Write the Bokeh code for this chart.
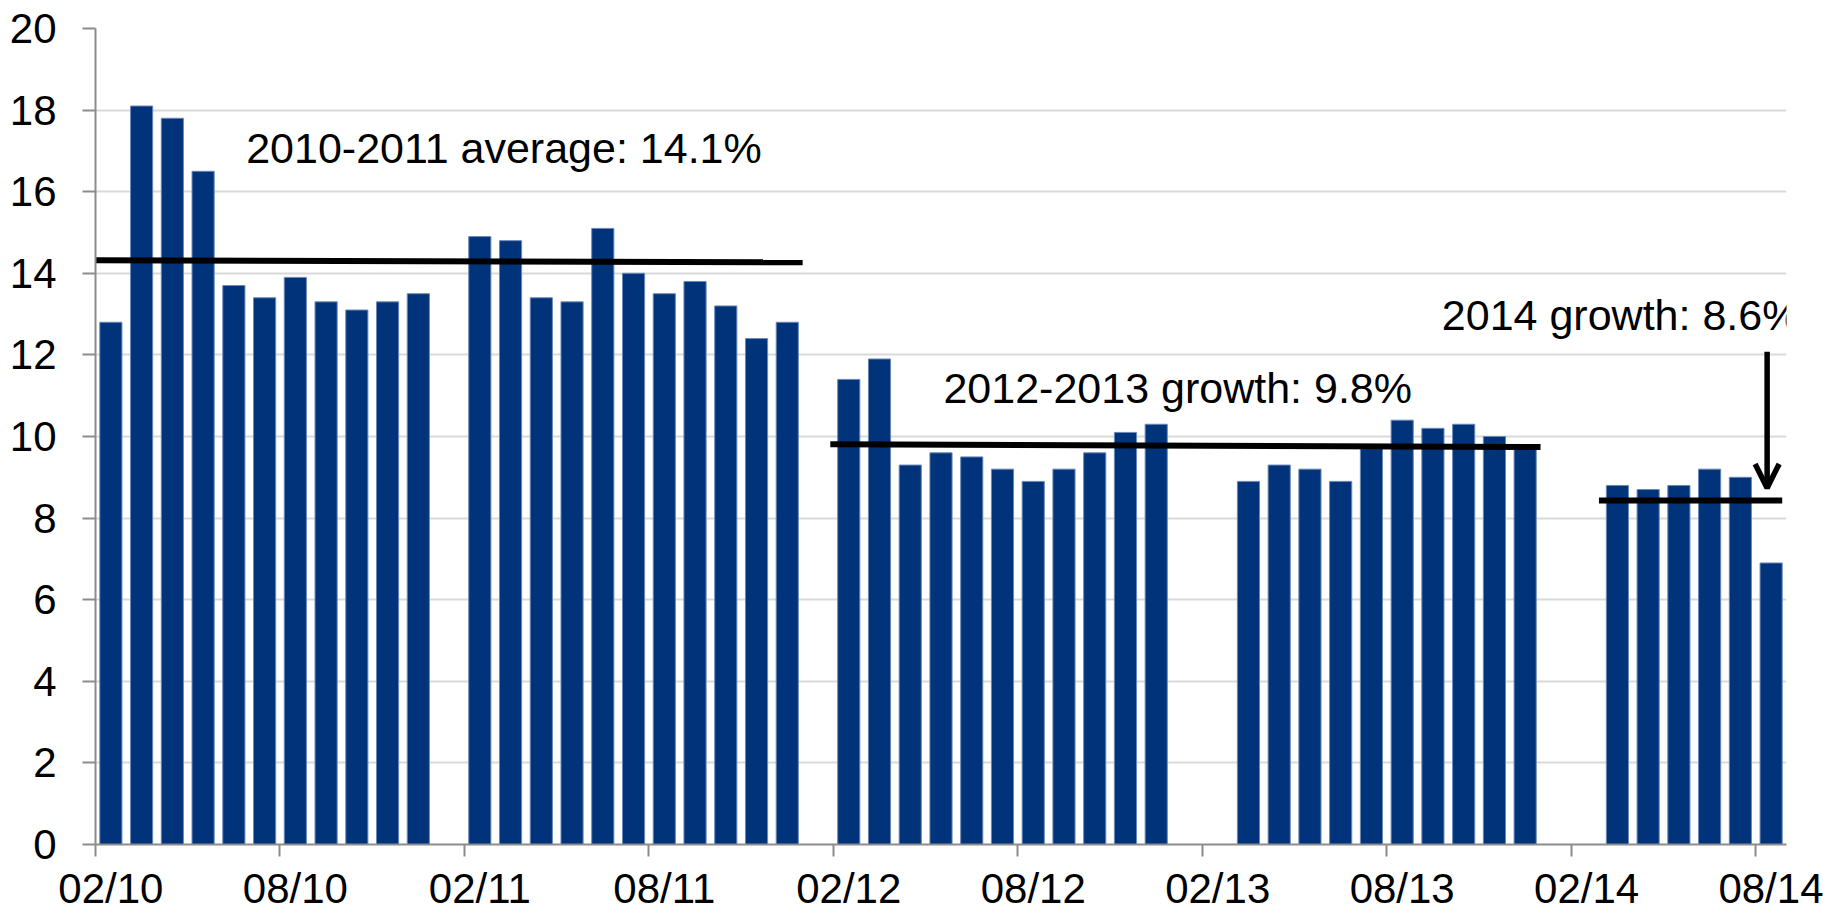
from bokeh.plotting import figure
from bokeh.models import Range1d, FixedTicker, Label, Arrow, OpenHead, ColumnDataSource
from bokeh.embed import file_html
from bokeh.resources import INLINE

# ---------------- data ----------------
bar_months = [
    "2010-02", "2010-03", "2010-04", "2010-05", "2010-06", "2010-07", "2010-08", "2010-09", "2010-10", "2010-11", "2010-12",
    "2011-02", "2011-03", "2011-04", "2011-05", "2011-06", "2011-07", "2011-08", "2011-09", "2011-10", "2011-11", "2011-12",
    "2012-02", "2012-03", "2012-04", "2012-05", "2012-06", "2012-07", "2012-08", "2012-09", "2012-10", "2012-11", "2012-12",
    "2013-03", "2013-04", "2013-05", "2013-06", "2013-07", "2013-08", "2013-09", "2013-10", "2013-11", "2013-12",
    "2014-03", "2014-04", "2014-05", "2014-06", "2014-07", "2014-08",
]
growth = [
    12.8, 18.1, 17.8, 16.5, 13.7, 13.4, 13.9, 13.3, 13.1, 13.3, 13.5,
    14.9, 14.8, 13.4, 13.3, 15.1, 14.0, 13.5, 13.8, 13.2, 12.4, 12.8,
    11.4, 11.9, 9.3, 9.6, 9.5, 9.2, 8.9, 9.2, 9.6, 10.1, 10.3,
    8.9, 9.3, 9.2, 8.9, 9.7, 10.4, 10.2, 10.3, 10.0, 9.7,
    8.8, 8.7, 8.8, 9.2, 9.0, 6.9,
]
tick_labels = ["02/10", "08/10", "02/11", "08/11", "02/12", "08/12", "02/13", "08/13", "02/14", "08/14"]
y_ticks = [0, 2, 4, 6, 8, 10, 12, 14, 16, 18, 20]

ref_texts = ["2010-2011 average: 14.1%", "2012-2013 growth: 9.8%", "2014 growth: 8.6%"]
ref_level_start = [14.32, 9.81, 8.43]
ref_level_end = [14.27, 9.74, 8.43]
arrow_from = 12.08
arrow_to = 8.74


def month_index(s):
    y, m = map(int, s.split("-"))
    return (y - 2010) * 12 + (m - 2)


FONT = "Liberation Sans"
AXIS_GRAY = "#8c8c8c"

p = figure(width=1823, height=914, x_range=Range1d(0, 55), y_range=Range1d(0, 20),
           output_backend="svg", toolbar_location=None,
           min_border_left=95, min_border_right=37, min_border_top=28, min_border_bottom=69)
p.outline_line_color = None
p.background_fill_color = "white"

src = ColumnDataSource(dict(x=[month_index(s) + 0.5 for s in bar_months], top=growth))
p.vbar(x="x", top="top", width=0.72, source=src, fill_color="#00337a", line_color="#6a88b8", line_width=1)

# reference lines
seg_x0 = [-0.1, 23.9, 48.9]
seg_x1 = [23.0, 47.0, 54.86]
p.segment(x0=seg_x0, y0=ref_level_start, x1=seg_x1, y1=ref_level_end, line_color="black", line_width=6)

# annotation texts
text_pos = [(4.9, 17.06), (27.58, 11.2), (43.79, 12.99)]
for t, (tx, ty) in zip(ref_texts, text_pos):
    p.add_layout(Label(x=tx, y=ty, text=t, text_font=FONT, text_font_size="43px",
                       text_color="black", text_baseline="alphabetic", text_align="left"))

p.add_layout(Arrow(end=OpenHead(size=24, line_width=5.5, line_color="black"),
                   x_start=54.37, y_start=arrow_from, x_end=54.37, y_end=arrow_to,
                   line_width=5.5, line_color="black"))

# grid
p.xgrid.visible = False
p.ygrid.ticker = FixedTicker(ticks=y_ticks)
p.ygrid.grid_line_color = "#d9d9d9"
p.ygrid.grid_line_width = 2

# x axis
tick_pos = [i * 6 for i in range(len(tick_labels))]
p.xaxis.ticker = FixedTicker(ticks=[t + 0.5 for t in tick_pos], minor_ticks=tick_pos)
p.xaxis.major_label_overrides = {t + 0.5: lab for t, lab in zip(tick_pos, tick_labels)}
p.xaxis.major_tick_out = 0
p.xaxis.major_tick_in = 0
p.xaxis.major_tick_line_color = None
p.xaxis.minor_tick_out = 12
p.xaxis.minor_tick_in = 0
p.xaxis.minor_tick_line_color = AXIS_GRAY
p.xaxis.minor_tick_line_width = 2
p.xaxis.axis_line_color = AXIS_GRAY
p.xaxis.axis_line_width = 2
p.xaxis.major_label_text_font = FONT
p.xaxis.major_label_text_font_size = "42px"
p.xaxis.major_label_text_color = "black"
p.xaxis.major_label_standoff = 8

# y axis
p.yaxis.ticker = FixedTicker(ticks=y_ticks)
p.yaxis.major_tick_out = 13
p.yaxis.major_tick_in = 0
p.yaxis.major_tick_line_color = AXIS_GRAY
p.yaxis.major_tick_line_width = 2
p.yaxis.minor_tick_line_color = None
p.yaxis.axis_line_color = AXIS_GRAY
p.yaxis.axis_line_width = 2
p.yaxis.major_label_text_font = FONT
p.yaxis.major_label_text_font_size = "42px"
p.yaxis.major_label_text_color = "black"
p.yaxis.major_label_standoff = 26

open("out.html", "w").write(file_html(p, INLINE))
